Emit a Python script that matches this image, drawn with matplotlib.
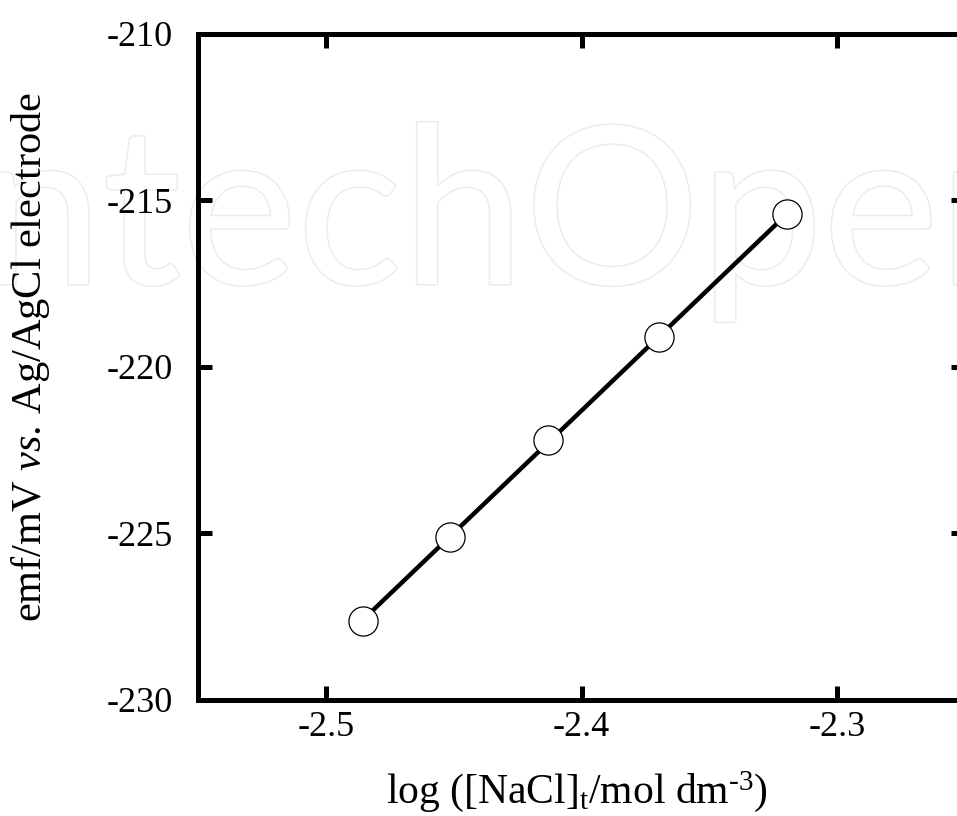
import numpy as np
import matplotlib.pyplot as plt
import matplotlib.patheffects as pe

# data
log_nacl = [-2.4856, -2.4513, -2.4130, -2.3696, -2.3196]
emf = [-227.62, -225.10, -222.19, -219.11, -215.41]

xticks = [-2.5, -2.4, -2.3]
yticks = [-230, -225, -220, -215, -210]

plt.rcParams['font.family'] = 'Liberation Serif'
plt.rcParams['mathtext.fontset'] = 'custom'
plt.rcParams['mathtext.rm'] = 'Liberation Serif'
plt.rcParams['mathtext.it'] = 'Liberation Serif:italic'

fig = plt.figure(figsize=(9.57, 8.16), dpi=100)
ax = fig.add_axes([0.2069, 0.1422, 0.8015, 0.8162])
ax.patch.set_alpha(0)

# watermark
wm = fig.text(-0.085, 0.652, 'IntechOpen', fontsize=158, family='Lato',
              color='white', zorder=-5,
              path_effects=[pe.withStroke(linewidth=2.2, foreground='#ececec')])

# linear fit line
coef = np.polyfit(log_nacl, emf, 1)
xs = np.array([min(log_nacl), max(log_nacl)])
ax.plot(xs, np.polyval(coef, xs), color='black', lw=3.2, zorder=2)
ax.plot(log_nacl, emf, 'o', ms=21, mfc='white', mec='black', mew=0.9, zorder=3)

ax.set_xlim(-2.55, -2.25)
ax.set_ylim(-230, -210)
ax.set_xticks(xticks)
ax.set_yticks(yticks)
ax.set_xticklabels(['%.1f' % v for v in xticks])
ax.set_yticklabels(['%d' % v for v in yticks])

for s in ax.spines.values():
    s.set_linewidth(3.6)
ax.tick_params(direction='in', length=10, width=3.6, labelsize=26,
               top=True, right=True)
ax.tick_params(axis='x', pad=8)
ax.tick_params(axis='y', pad=18)

ax.set_xlabel(r'log ([NaCl]$_{\mathrm{t}}$/mol dm$^{\text{-3}}$)', fontsize=30)
ax.set_ylabel(r'$\mathrm{emf/mV}\ \mathit{vs.}\,\mathrm{Ag/AgCl\ electrode}$',
              fontsize=30.5)
ax.xaxis.set_label_coords(0.494, -0.103)
ax.yaxis.set_label_coords(-0.19, 0.515)

fig.savefig('out.png', dpi=100)
